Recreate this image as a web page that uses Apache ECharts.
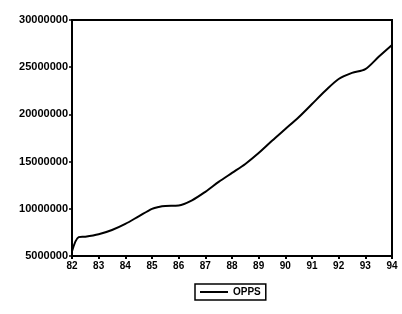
<!DOCTYPE html>
<html>
<head>
<meta charset="utf-8">
<script src="https://cdn.jsdelivr.net/npm/echarts@6/dist/echarts.min.js"></script>
<style>
  html, body { margin: 0; padding: 0; background: #fff; }
  #chart { width: 402px; height: 314px; }
</style>
</head>
<body>
<div id="chart"></div>
<script>
// readings taken off the curve, 1982 - 1994
const years = [82, 82.25, 82.5, 83, 83.5, 84, 84.5, 85, 85.25, 85.5, 86, 86.5, 87, 87.5,
  88, 88.5, 89, 89.5, 90, 90.5, 91, 91.5, 92, 92.5, 93, 93.5, 94]
const opps = [5500000, 7000000, 7050000, 7300000, 7750000, 8400000, 9200000, 10000000, 10200000,
  10300000, 10350000, 10900000, 11800000, 12850000, 13800000, 14750000, 15900000, 17200000,
  18450000, 19700000, 21100000, 22500000, 23750000, 24400000, 24800000, 26100000, 27350000]
const yTicks = [5000000, 10000000, 15000000, 20000000, 25000000, 30000000]

const chart = echarts.init(document.getElementById('chart'))

const labelFont = {
  color: '#000',
  fontFamily: 'Liberation Sans',
  fontWeight: 'bold'
}

chart.setOption({
  animation: false,
  backgroundColor: '#fff',
  grid: {
    left: 72,
    right: 10,
    top: 20,
    bottom: 58,
    show: true,
    borderColor: '#000',
    borderWidth: 2
  },
  legend: {
    bottom: 14,
    left: 195,
    data: ['OPPS'],
    itemWidth: 28,
    itemHeight: 2,
    itemGap: 4,
    padding: [3, 5, 3, 5],
    borderColor: '#000',
    borderWidth: 1.5,
    icon: 'rect',
    textStyle: Object.assign({ fontSize: 10 }, labelFont)
  },
  xAxis: {
    type: 'value',
    min: 82,
    max: 94,
    interval: 1,
    splitLine: { show: false },
    axisLine: { lineStyle: { color: '#000', width: 2 } },
    axisTick: { show: true, length: 3, lineStyle: { color: '#000', width: 2 } },
    axisLabel: Object.assign({ fontSize: 10, margin: 5, formatter: v => String(v) }, labelFont)
  },
  yAxis: {
    type: 'value',
    min: yTicks[0],
    max: yTicks[yTicks.length - 1],
    interval: 5000000,
    splitLine: { show: false },
    axisLine: { show: true, lineStyle: { color: '#000', width: 2 } },
    axisTick: { show: true, length: 3, lineStyle: { color: '#000', width: 1.5 } },
    axisLabel: Object.assign({ fontSize: 11, margin: 4, formatter: v => String(v) }, labelFont)
  },
  series: [
    {
      name: 'OPPS',
      type: 'line',
      data: years.map((y, i) => [y, opps[i]]),
      showSymbol: false,
      smooth: 0.3,
      lineStyle: { color: '#000', width: 2 },
      itemStyle: { color: '#000' }
    }
  ]
})
</script>
</body>
</html>
